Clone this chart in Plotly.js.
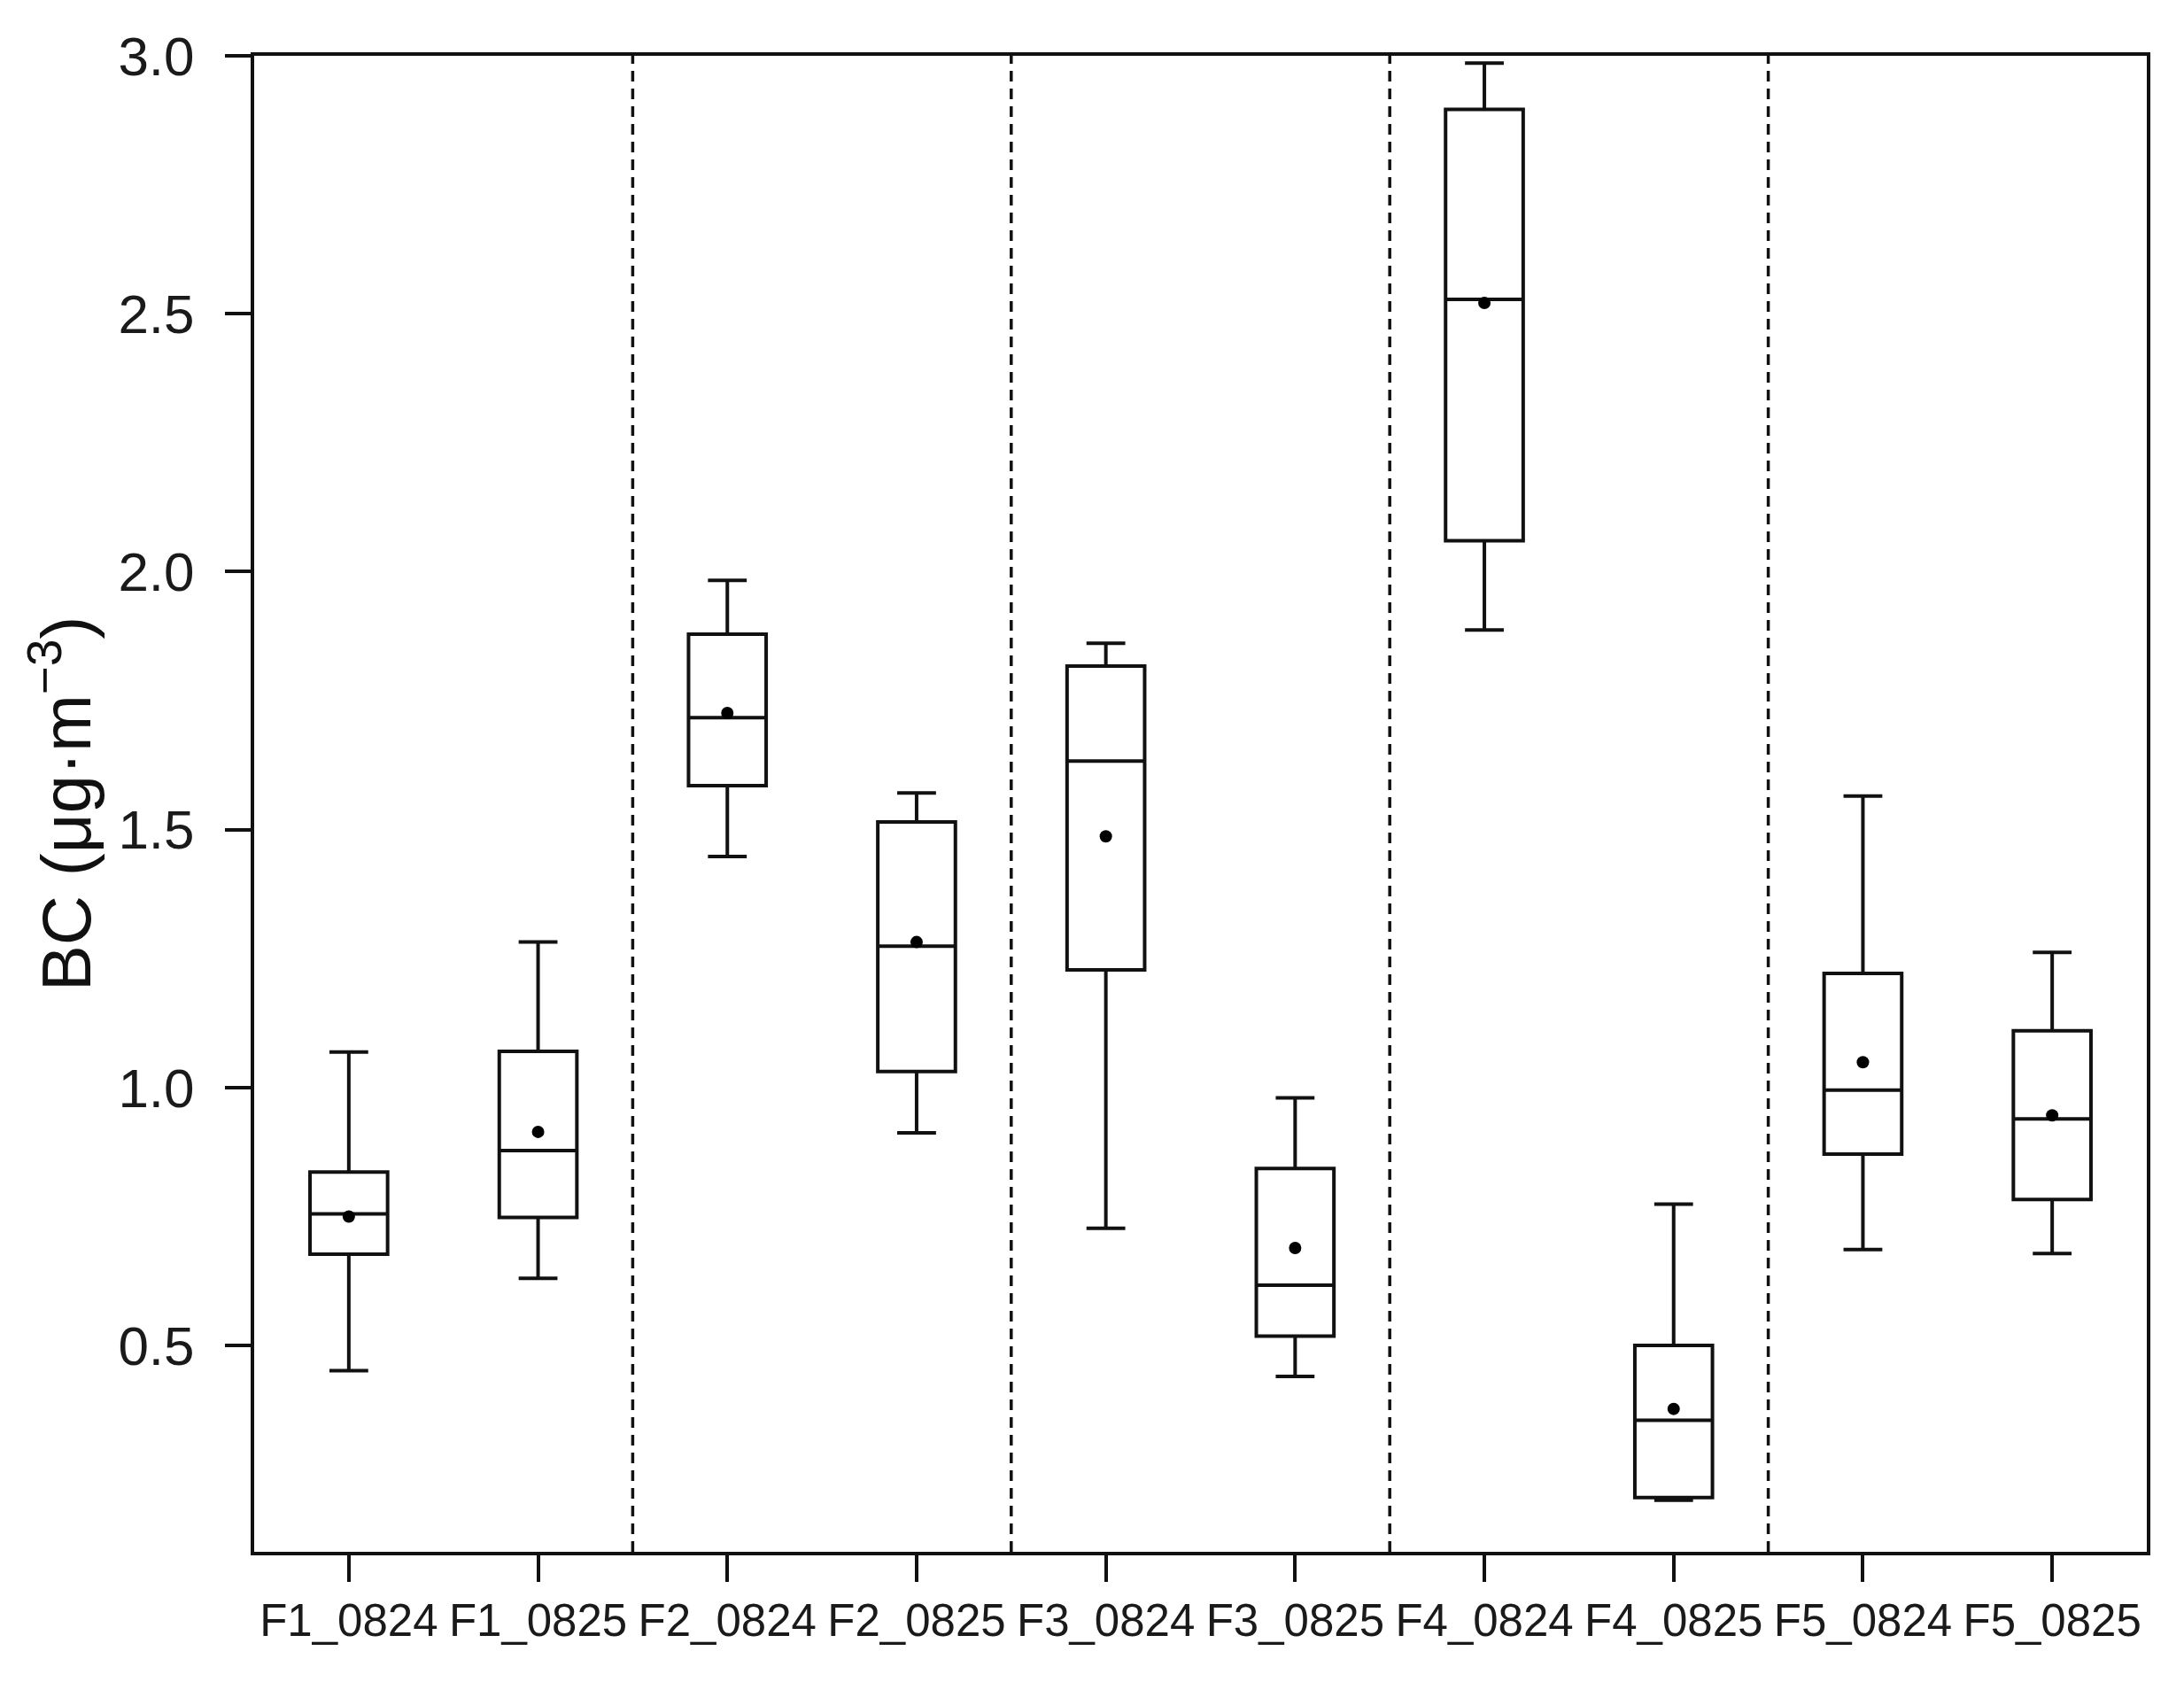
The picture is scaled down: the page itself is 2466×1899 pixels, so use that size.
<!DOCTYPE html>
<html>
<head>
<meta charset="utf-8">
<script src="https://cdn.plot.ly/plotly-3.0.1.min.js"></script>
<style>
  html, body { margin: 0; padding: 0; background: #ffffff; }
  #chart { width: 2466px; height: 1899px; }
</style>
</head>
<body>
<div id="chart"></div>
<script>
// ---- data ----
const categories = ["F1_0824", "F1_0825", "F2_0824", "F2_0825", "F3_0824",
                    "F3_0825", "F4_0824", "F4_0825", "F5_0824", "F5_0825"];
const lowerWhisker = [0.451, 0.630, 1.448, 0.912, 0.727, 0.440, 1.887, 0.200, 0.686, 0.678];
const q1Values     = [0.677, 0.748, 1.585, 1.031, 1.228, 0.518, 2.060, 0.205, 0.871, 0.783];
const medianValues = [0.755, 0.878, 1.717, 1.274, 1.633, 0.617, 2.528, 0.355, 0.995, 0.939];
const q3Values     = [0.836, 1.070, 1.879, 1.515, 1.817, 0.843, 2.896, 0.500, 1.221, 1.110];
const upperWhisker = [1.069, 1.282, 1.983, 1.571, 1.861, 0.980, 2.986, 0.774, 1.565, 1.262];
const meanValues   = [0.750, 0.914, 1.726, 1.282, 1.487, 0.689, 2.521, 0.377, 1.049, 0.946];
const yTickValues  = [0.5, 1.0, 1.5, 2.0, 2.5, 3.0];
const yTickLabels  = ["0.5", "1.0", "1.5", "2.0", "2.5", "3.0"];
const groupSize = 2;   // two dates per site

// ---- traces ----
const boxTrace = {
  type: "box",
  x: categories,
  q1: q1Values,
  median: medianValues,
  q3: q3Values,
  lowerfence: lowerWhisker,
  upperfence: upperWhisker,
  boxpoints: false,
  boxmean: false,
  whiskerwidth: 0.5,
  fillcolor: "rgba(0,0,0,0)",
  line: { color: "#111111", width: 4 },
  showlegend: false,
  hoverinfo: "skip"
};

const meanTrace = {
  type: "scatter",
  mode: "markers",
  x: categories,
  y: meanValues,
  marker: { color: "#000000", size: 14, symbol: "circle" },
  showlegend: false,
  hoverinfo: "skip"
};

// ---- dashed separators between sites ----
const shapes = [];
const nGroups = categories.length / groupSize;
for (let g = 1; g < nGroups; g++) {
  const xPos = g * groupSize - 0.5;
  shapes.push({
    type: "line", xref: "x", yref: "paper",
    x0: xPos, x1: xPos, y0: 0, y1: 1,
    line: { color: "#111111", width: 3.5, dash: "12px,8px" },
    layer: "below"
  });
}

const fontFamily = "Liberation Sans, Arial, sans-serif";

const layout = {
  width: 2466,
  height: 1899,
  margin: { l: 287, r: 42, t: 63, b: 147 },
  paper_bgcolor: "#ffffff",
  plot_bgcolor: "#ffffff",
  showlegend: false,
  boxgap: 0.59,
  boxgroupgap: 0,
  font: { family: fontFamily, color: "#1a1a1a" },
  xaxis: {
    type: "category",
    range: [-0.5, categories.length - 0.5],
    showline: true, mirror: true, linecolor: "#111111", linewidth: 4,
    showgrid: false, zeroline: false,
    ticks: "outside", ticklen: 30, tickwidth: 4, tickcolor: "#111111",
    tickfont: { family: fontFamily, size: 51, color: "#1a1a1a" },
    ticklabelstandoff: 0
  },
  yaxis: {
    range: [0.1, 3.0],
    tickmode: "array",
    tickvals: yTickValues,
    ticktext: yTickLabels,
    showline: true, mirror: true, linecolor: "#111111", linewidth: 4,
    showgrid: false, zeroline: false,
    ticks: "outside", ticklen: 29, tickwidth: 4, tickcolor: "#111111",
    tickfont: { family: fontFamily, size: 62, color: "#1a1a1a" },
    ticklabelstandoff: 22,
    title: {
      text: "BC (μg·m<sup>−3</sup>)",
      font: { family: fontFamily, size: 78, color: "#111111" },
      standoff: 6
    }
  },
  shapes: shapes
};

Plotly.newPlot("chart", [boxTrace, meanTrace], layout, { displayModeBar: false, staticPlot: true });
</script>
</body>
</html>
